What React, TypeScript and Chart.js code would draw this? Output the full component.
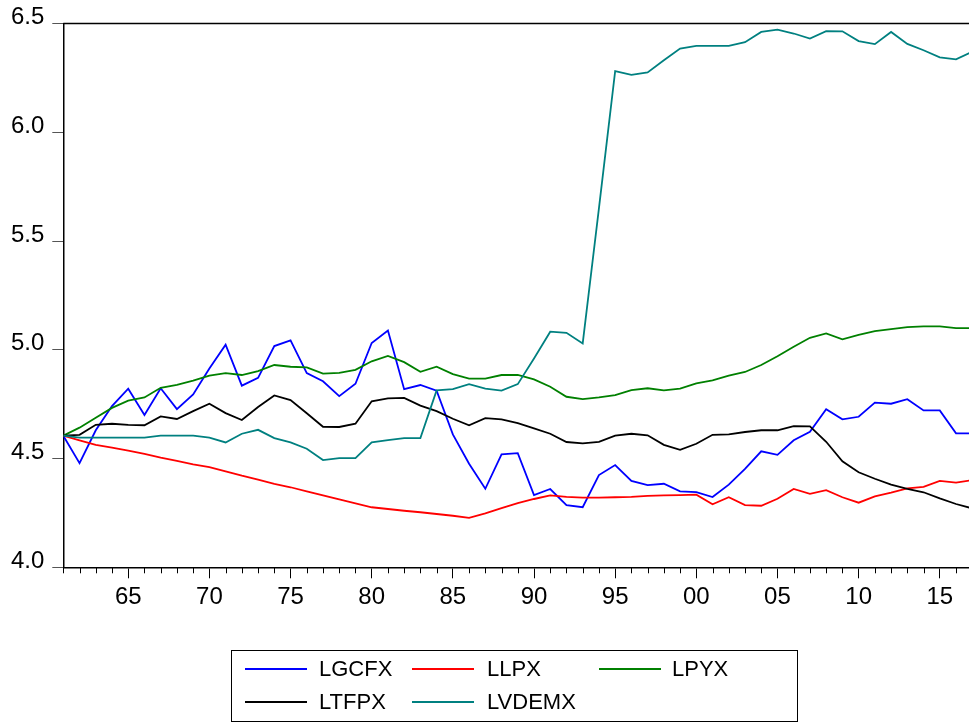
import React, { useEffect, useRef } from "react";
import { Chart, registerables } from "chart.js";

Chart.register(...registerables);

const YEARS: number[] = [];
for (let y = 1961; y <= 2017; y++) YEARS.push(y);

const LGCFX = [4.605, 4.479, 4.63, 4.741, 4.821, 4.7, 4.823, 4.727, 4.795, 4.914, 5.023, 4.835, 4.871, 5.017, 5.043, 4.893, 4.855, 4.787, 4.844, 5.031, 5.089, 4.819, 4.838, 4.812, 4.611, 4.476, 4.361, 4.519, 4.525, 4.332, 4.36, 4.286, 4.276, 4.424, 4.47, 4.397, 4.378, 4.384, 4.349, 4.346, 4.323, 4.38, 4.452, 4.533, 4.517, 4.584, 4.623, 4.727, 4.68, 4.692, 4.757, 4.752, 4.773, 4.721, 4.721, 4.616, 4.616];
const LLPX = [4.605, 4.584, 4.563, 4.55, 4.536, 4.521, 4.504, 4.489, 4.473, 4.461, 4.441, 4.421, 4.403, 4.384, 4.368, 4.349, 4.331, 4.312, 4.294, 4.276, 4.268, 4.26, 4.253, 4.245, 4.237, 4.227, 4.248, 4.272, 4.295, 4.314, 4.331, 4.324, 4.32, 4.32, 4.322, 4.324, 4.328, 4.331, 4.332, 4.334, 4.29, 4.322, 4.286, 4.283, 4.315, 4.36, 4.338, 4.355, 4.322, 4.297, 4.326, 4.343, 4.363, 4.37, 4.397, 4.389, 4.401];
const LPYX = [4.605, 4.642, 4.688, 4.733, 4.766, 4.781, 4.825, 4.839, 4.858, 4.881, 4.893, 4.884, 4.902, 4.93, 4.922, 4.919, 4.89, 4.894, 4.908, 4.947, 4.972, 4.943, 4.899, 4.922, 4.888, 4.867, 4.867, 4.884, 4.885, 4.864, 4.83, 4.784, 4.773, 4.781, 4.792, 4.815, 4.823, 4.813, 4.821, 4.846, 4.859, 4.881, 4.898, 4.93, 4.97, 5.014, 5.055, 5.075, 5.048, 5.068, 5.086, 5.095, 5.104, 5.108, 5.108, 5.1, 5.1];
const LTFPX = [4.605, 4.609, 4.655, 4.66, 4.655, 4.653, 4.694, 4.682, 4.718, 4.752, 4.709, 4.677, 4.737, 4.79, 4.769, 4.708, 4.646, 4.645, 4.66, 4.763, 4.777, 4.779, 4.743, 4.718, 4.683, 4.653, 4.686, 4.68, 4.663, 4.639, 4.614, 4.576, 4.57, 4.577, 4.605, 4.614, 4.607, 4.563, 4.54, 4.568, 4.609, 4.611, 4.622, 4.63, 4.63, 4.649, 4.648, 4.577, 4.487, 4.437, 4.407, 4.38, 4.36, 4.345, 4.317, 4.291, 4.271];
const LVDEMX = [4.605, 4.596, 4.596, 4.596, 4.596, 4.596, 4.605, 4.605, 4.605, 4.596, 4.574, 4.614, 4.632, 4.594, 4.574, 4.545, 4.493, 4.502, 4.502, 4.574, 4.585, 4.594, 4.594, 4.813, 4.819, 4.842, 4.821, 4.812, 4.842, 4.96, 5.083, 5.078, 5.029, 5.65, 6.281, 6.264, 6.275, 6.331, 6.385, 6.397, 6.397, 6.397, 6.414, 6.461, 6.472, 6.454, 6.431, 6.465, 6.464, 6.419, 6.405, 6.461, 6.406, 6.377, 6.344, 6.335, 6.37];

const SERIES_NAMES = ["LGCFX", "LLPX", "LPYX", "LTFPX", "LVDEMX"];
const SERIES_VALUES = [LGCFX, LLPX, LPYX, LTFPX, LVDEMX];
const SERIES_COLORS = ["#0000ff", "#ff0000", "#008000", "#000000", "#008080"];

const Y_TICKS = [4.0, 4.5, 5.0, 5.5, 6.0, 6.5];
const X_MAJOR = [1965, 1970, 1975, 1980, 1985, 1990, 1995, 2000, 2005, 2010, 2015];

const FONT = "'Liberation Sans', Arial, Helvetica, sans-serif";

const framePlugin = {
  id: "frame",
  afterDraw(chart: any) {
    const { ctx, chartArea, scales } = chart;
    const xs = scales.x;
    ctx.save();
    ctx.strokeStyle = "#000";
    ctx.lineWidth = 1;
    for (const yr of YEARS) {
      if (yr % 5 === 0) continue;
      const px = Math.round(xs.getPixelForValue(yr)) + 0.5;
      if (px > chartArea.right) continue;
      ctx.beginPath();
      ctx.moveTo(px, chartArea.bottom);
      ctx.lineTo(px, chartArea.bottom + 6);
      ctx.stroke();
    }
    ctx.lineWidth = 1.5;
    ctx.beginPath();
    ctx.moveTo(chartArea.left, chartArea.top);
    ctx.lineTo(chartArea.right + 5, chartArea.top);
    ctx.stroke();
    ctx.restore();
  },
};

export default function App() {
  const ref = useRef<HTMLCanvasElement | null>(null);

  useEffect(() => {
    if (!ref.current) return;
    const datasets = SERIES_NAMES.map((name, i) => ({
      label: name,
      data: YEARS.map((yr, j) => ({ x: yr, y: SERIES_VALUES[i][j] })),
      borderColor: SERIES_COLORS[i],
      backgroundColor: SERIES_COLORS[i],
      borderWidth: 1.8,
      pointRadius: 0,
      tension: 0,
      fill: false,
      order: SERIES_NAMES.length - i,
    }));
    const chart = new Chart(ref.current, {
      type: "line",
      data: { datasets },
      plugins: [framePlugin],
      options: {
        animation: false,
        responsive: false,
        devicePixelRatio: 1,
        layout: { padding: { top: 23.5, left: 0, right: 0, bottom: 0 } },
        plugins: { legend: { display: false }, tooltip: { enabled: false }, title: { display: false } },
        scales: {
          x: {
            type: "linear",
            min: 1961,
            max: 2016.8,
            afterBuildTicks: (scale: any) => {
              scale.ticks = X_MAJOR.map((v) => ({ value: v }));
            },
            afterFit: (scale: any) => {
              scale.height = 727 - 567.3;
            },
            grid: { display: true, drawOnChartArea: false, drawTicks: true, tickLength: 11, tickColor: "#000", tickWidth: 1 },
            border: { display: true, color: "#000", width: 1.5 },
            ticks: {
              autoSkip: false,
              maxRotation: 0,
              padding: 5,
              color: "#000",
              font: { family: FONT, size: 24 },
              callback: (v: any) => String(Number(v) % 100).padStart(2, "0"),
            },
          },
          y: {
            min: 4.0,
            max: 6.5,
            afterBuildTicks: (scale: any) => {
              scale.ticks = Y_TICKS.map((v) => ({ value: v }));
            },
            afterFit: (scale: any) => {
              scale.width = 63.3;
            },
            grid: { display: true, drawOnChartArea: false, drawTicks: true, tickLength: 11, tickColor: "#555", tickWidth: 1 },
            border: { display: true, color: "#000", width: 1.5 },
            ticks: {
              padding: 8,
              labelOffset: -6,
              color: "#000",
              font: { family: FONT, size: 24 },
              callback: (v: any) => Number(v).toFixed(1),
            },
          },
        },
      },
    });
    return () => chart.destroy();
  }, []);

  const legendRows = [
    [0, 1, 2],
    [3, 4],
  ];
  const colLineX = [245, 412, 599];
  const colTextX = [319, 487, 672];
  const rowY = [669, 701.5];

  return (
    <div style={{ position: "fixed", left: 0, top: 0, width: 969, height: 727, overflow: "hidden", background: "#fff" }}>
      <canvas ref={ref} width={969} height={727} style={{ display: "block", width: 969, height: 727 }} />
      <div
        style={{
          position: "absolute",
          left: 231,
          top: 650,
          width: 567,
          height: 72,
          border: "1px solid #000",
          boxSizing: "border-box",
        }}
      />
      {legendRows.map((row, r) =>
        row.map((si, c) => (
          <React.Fragment key={SERIES_NAMES[si]}>
            <div
              style={{
                position: "absolute",
                left: colLineX[c],
                top: rowY[r] - 1,
                width: 62,
                height: 0,
                borderTop: `2px solid ${SERIES_COLORS[si]}`,
              }}
            />
            <div
              style={{
                position: "absolute",
                left: colTextX[c],
                top: rowY[r] - 13,
                fontFamily: FONT,
                fontSize: 22,
                lineHeight: "26px",
                color: "#000",
                whiteSpace: "nowrap",
              }}
            >
              {SERIES_NAMES[si]}
            </div>
          </React.Fragment>
        ))
      )}
    </div>
  );
}
